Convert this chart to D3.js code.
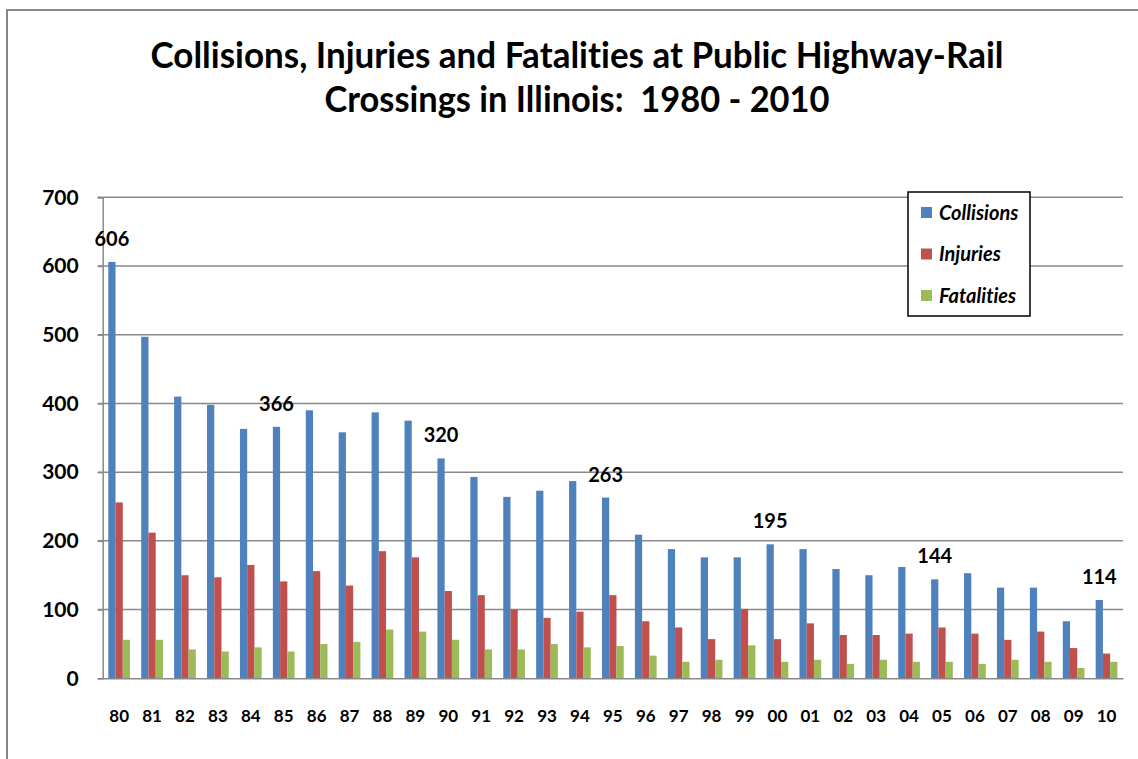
<!DOCTYPE html>
<html>
<head>
<meta charset="utf-8">
<script src="https://cdn.jsdelivr.net/npm/d3@7"></script>
<style>
  html, body { margin: 0; padding: 0; background: #fff; }
  svg { display: block; font-family: Lato, "Open Sans", sans-serif; font-variant-ligatures: none; }
  text { white-space: pre; }
</style>
</head>
<body>
<div class="container"></div>
<script>
// data
const years = ['80','81','82','83','84','85','86','87','88','89','90','91','92','93','94','95',
  '96','97','98','99','00','01','02','03','04','05','06','07','08','09','10'];
const collisions = [606,497,410,398,363,366,390,358,387,375,320,293,264,273,287,263,
  209,188,176,176,195,188,159,150,162,144,153,132,132,83,114];
const injuries = [256,212,150,147,165,141,156,135,185,176,127,121,100,88,97,121,
  83,74,57,101,57,80,63,63,65,74,65,56,68,44,36];
const fatalities = [56,56,42,39,45,39,50,53,71,68,56,42,42,50,45,47,
  33,24,27,48,24,27,21,27,24,24,21,27,24,15,24];
const seriesNames = ['Collisions','Injuries','Fatalities'];
const seriesColors = ['#4F81BD','#C0504D','#9BBB59'];
const labelYears = ['80','85','90','95','00','05','10'];
const yTicks = [0,100,200,300,400,500,600,700];
const titleLines = ['Collisions, Injuries and Fatalities at Public Highway-Rail',
  'Crossings in Illinois:  1980 - 2010'];

const W = 1138, H = 759;
const plot = {left: 102.7, right: 1123, top: 197.3, bottom: 678.3};
const fontStack = 'Lato, "Open Sans", sans-serif';

const svg = d3.select('.container')
  .append('svg')
  .attr('width', W)
  .attr('height', H);

// outer chart frame (runs off the right and bottom of the picture)
svg.append('rect')
  .attr('x', 7).attr('y', 10)
  .attr('width', W + 20).attr('height', H + 20)
  .attr('fill', 'none')
  .attr('stroke', '#878787')
  .attr('stroke-width', 2);

// title, sized close to the width it has in the picture
const titleWidths = [853, 505];
titleLines.forEach(function(line, i) {
  const t = svg.append('text')
    .attr('x', 577)
    .attr('y', i === 0 ? 68 : 112)
    .attr('text-anchor', 'middle')
    .attr('font-weight', 'bold')
    .attr('font-size', 30)
    .attr('fill', '#000')
    .text(line);
  const w = t.node().getComputedTextLength();
  t.attr('font-size', 30 * titleWidths[i] / w * 1.03)
    .attr('textLength', titleWidths[i])
    .attr('lengthAdjust', 'spacingAndGlyphs');
});

// scales
const x0 = d3.scaleBand()
  .domain(years)
  .range([plot.left, plot.right])
  .paddingInner(0.34)
  .paddingOuter(0.17);

const x1 = d3.scaleBand()
  .domain(seriesNames)
  .range([0, x0.bandwidth()]);

const y = d3.scaleLinear()
  .domain([0, 700])
  .range([plot.bottom, plot.top]);

// gridlines
svg.append('g')
  .selectAll('line')
  .data(yTicks.slice(1))
  .join('line')
  .attr('x1', plot.left - 5).attr('x2', plot.right)
  .attr('y1', d => y(d)).attr('y2', d => y(d))
  .attr('stroke', '#898989')
  .attr('stroke-width', 1.5);

// y axis
const yAxis = svg.append('g')
  .attr('transform', `translate(${plot.left},0)`)
  .call(d3.axisLeft(y).tickValues(yTicks).tickSize(5).tickPadding(19));
yAxis.select('.domain').attr('stroke', '#898989').attr('stroke-width', 1.5);
yAxis.selectAll('.tick line').attr('stroke', '#898989').attr('stroke-width', 1.5);
yAxis.selectAll('.tick text')
  .attr('font-family', fontStack)
  .attr('font-size', 21)
  .attr('font-weight', 'bold')
  .attr('fill', '#000');

// bars
const table = years.map((yr, i) => ({
  year: yr,
  values: [collisions[i], injuries[i], fatalities[i]]
}));

const groups = svg.append('g')
  .selectAll('g')
  .data(table)
  .join('g')
  .attr('transform', d => `translate(${x0(d.year)},0)`);

groups.selectAll('rect')
  .data(d => d.values.map((v, j) => ({name: seriesNames[j], value: v, color: seriesColors[j]})))
  .join('rect')
  .attr('x', d => x1(d.name))
  .attr('width', x1.bandwidth())
  .attr('y', d => y(d.value))
  .attr('height', d => y(0) - y(d.value))
  .attr('fill', d => d.color);

// x axis
const xAxis = svg.append('g')
  .attr('transform', `translate(0,${plot.bottom})`)
  .call(d3.axisBottom(x0).tickSize(0).tickPadding(32));
xAxis.select('.domain').attr('stroke', '#898989').attr('stroke-width', 1.5);
xAxis.selectAll('.tick text')
  .attr('font-family', fontStack)
  .attr('font-size', 17)
  .attr('font-weight', 'bold')
  .attr('fill', '#000');

// data labels over selected collision bars
svg.append('g')
  .selectAll('text')
  .data(table.filter(d => labelYears.includes(d.year)))
  .join('text')
  .attr('x', d => x0(d.year) + x1('Collisions') + x1.bandwidth() / 2)
  .attr('y', d => y(d.values[0]) - 16)
  .attr('text-anchor', 'middle')
  .attr('font-size', 20)
  .attr('font-weight', 'bold')
  .attr('fill', '#000')
  .text(d => d.values[0]);

// legend
const legend = svg.append('g').attr('transform', 'translate(908,192)');
legend.append('rect')
  .attr('width', 122).attr('height', 124)
  .attr('fill', '#fff')
  .attr('stroke', '#000')
  .attr('stroke-width', 1.5);
const items = legend.selectAll('g')
  .data(seriesNames)
  .join('g')
  .attr('transform', (d, i) => `translate(13,${20.5 + i * 41.5})`);
items.append('rect')
  .attr('y', -5.5)
  .attr('width', 11).attr('height', 11)
  .attr('fill', (d, i) => seriesColors[i]);
items.append('text')
  .attr('x', 18)
  .attr('y', 7)
  .attr('font-size', 20)
  .attr('font-weight', 'bold')
  .attr('font-style', 'italic')
  .attr('fill', '#000')
  .text(d => d);
</script>
</body>
</html>
